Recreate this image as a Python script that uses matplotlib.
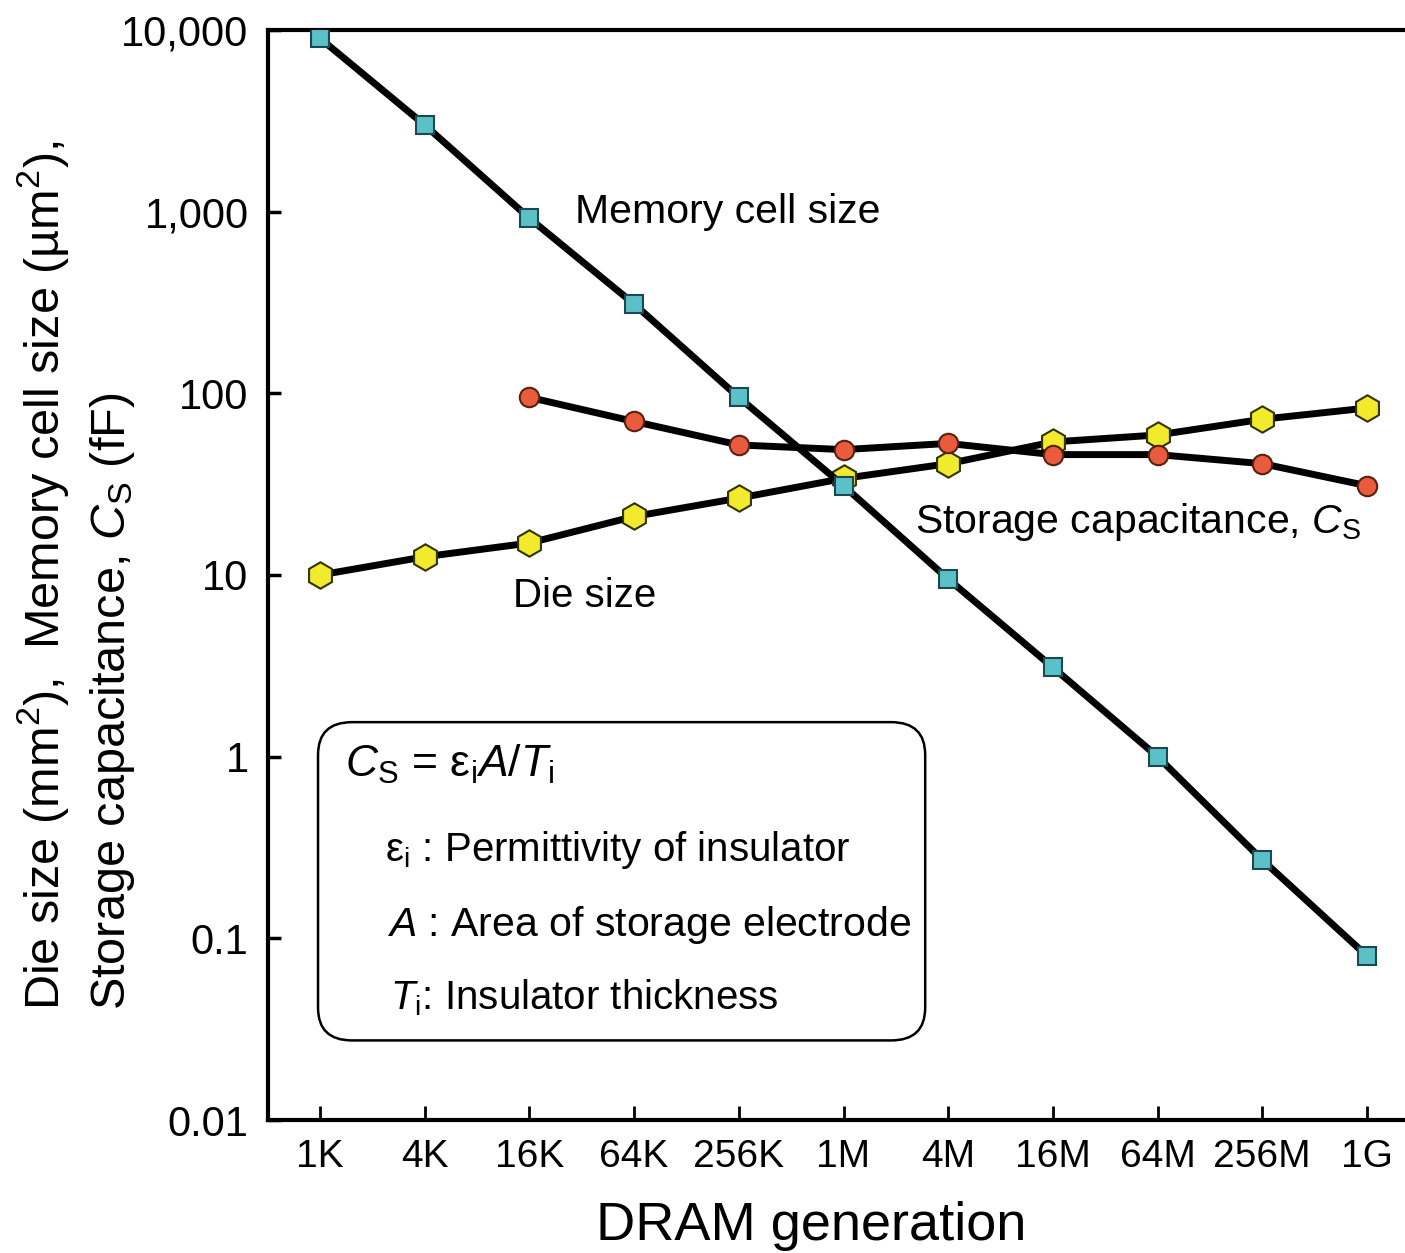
import numpy as np
import matplotlib.pyplot as plt
from matplotlib.patches import FancyBboxPatch

plt.rcParams['font.family'] = ['Liberation Sans', 'DejaVu Sans']
plt.rcParams['mathtext.fontset'] = 'custom'
plt.rcParams['mathtext.rm'] = 'Liberation Sans'
plt.rcParams['mathtext.it'] = 'Liberation Sans:italic'

# DRAM generations
generations = ['1K', '4K', '16K', '64K', '256K', '1M', '4M', '16M', '64M', '256M', '1G']

# values
cell_size = [9000, 3000, 920, 310, 95, 31, 9.5, 3.1, 1.0, 0.27, 0.08]          # um^2
capacitance = [95, 70, 52, 49, 53, 46, 46, 41, 31]                               # fF, from 16K
die_size = [10, 12.6, 15, 21, 26.5, 34, 41, 54, 59, 72, 83]                      # mm^2

y_ticks = [0.01, 0.1, 1, 10, 100, 1000, 10000]
y_tick_labels = ['0.01', '0.1', '1', '10', '100', '1,000', '10,000']

x = np.arange(len(generations))

fig = plt.figure(figsize=(14.05, 12.53), dpi=100)
ax = fig.add_axes([268/1405, 1 - 1120/1253, 1137/1405, 1090/1253])

ax.plot(x, die_size, '-', color='black', lw=5, marker='h', ms=19,
        mfc='#f2ea2c', mec='#333300', mew=1.5, zorder=3)
ax.plot(x[2:], capacitance, '-', color='black', lw=5, marker='o', ms=14,
        mfc='#ea5a3c', mec='#552211', mew=1.5, zorder=4)
ax.plot(x, cell_size, '-', color='black', lw=5, marker='s', ms=13,
        mfc='#5cc0c8', mec='#1a4a50', mew=1.5, zorder=5)

ax.set_yscale('log')
ax.set_ylim(0.01, 10000)
ax.set_xlim(-0.497, 10.363)
ax.set_yticks(y_ticks)
ax.set_yticklabels(y_tick_labels)
ax.minorticks_off()
ax.set_xticks(x)
ax.set_xticklabels(generations)

for s in ['left', 'bottom', 'top']:
    ax.spines[s].set_linewidth(3)
ax.spines['right'].set_visible(False)
ax.tick_params(axis='y', direction='in', length=9, width=2.5, labelsize=30, pad=14)
ax.tick_params(axis='x', direction='in', length=10, width=2, labelsize=28, pad=14)

ax.set_xlabel('DRAM generation', fontsize=39)
ax.xaxis.set_label_coords((811 - 268) / 1137, -0.074)
ax.set_ylabel('Die size (mm$^2$),  Memory cell size (µm$^2$),\n'
              'Storage capacitance, $C_{\\mathrm{S}}$ (fF)',
              fontsize=35, linespacing=1.45, multialignment='left')
ax.yaxis.set_label_coords((137 - 268) / 1137, 0.5)

ax.text(2.44, 1000, 'Memory cell size', fontsize=29.5, va='center', ha='left')
ax.text(5.68, 19.6, 'Storage capacitance, $C_{\\mathrm{S}}$', fontsize=29.5,
        va='center', ha='left')
ax.text(1.84, 7.7, 'Die size', fontsize=29, va='center', ha='left')

box = FancyBboxPatch((0.044, 0.073), 0.534, 0.292, boxstyle='round,pad=0,rounding_size=0.03',
                     transform=ax.transAxes, fc='white', ec='black', lw=1.8, zorder=6)
ax.add_patch(box)
ax.text(0.068, 0.326, '$C_{\\mathrm{S}}$ = ε$_{\\mathrm{i}}$$A$/$T_{\\mathrm{i}}$',
        transform=ax.transAxes, fontsize=32, va='center', zorder=7)
ax.text(0.103, 0.248, 'ε$_{\\mathrm{i}}$ : Permittivity of insulator',
        transform=ax.transAxes, fontsize=29, va='center', zorder=7)
ax.text(0.105, 0.179, '$A$ : Area of storage electrode',
        transform=ax.transAxes, fontsize=29.5, va='center', zorder=7)
ax.text(0.107, 0.112, '$T_{\\mathrm{i}}$: Insulator thickness',
        transform=ax.transAxes, fontsize=29, va='center', zorder=7)

fig.savefig('out.png', dpi=100)
